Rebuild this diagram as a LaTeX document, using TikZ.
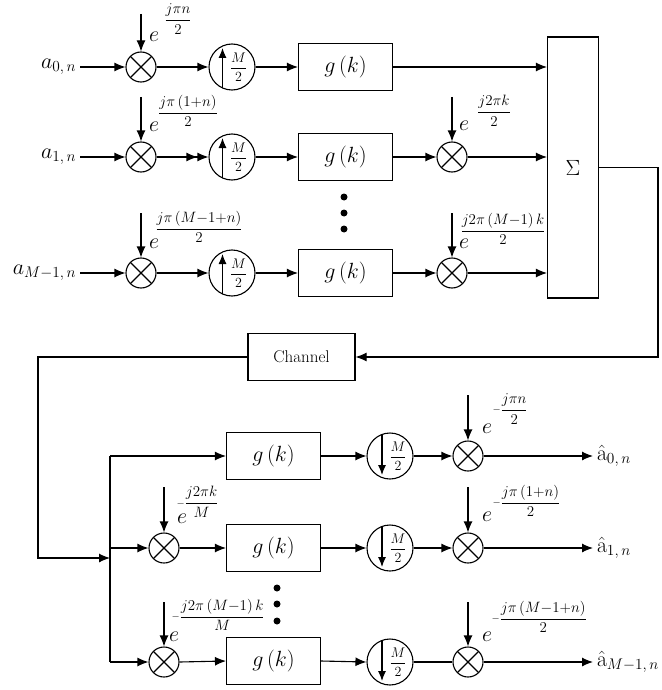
\RequirePackage{fix-cm}
\documentclass[tikz,border=0pt]{standalone}
\usepackage{amsmath}
\usetikzlibrary{arrows.meta,calc}
\begin{document}
\begin{tikzpicture}[x=1pt,y=-1pt,
  line width=1.1pt,
  every node/.style={font=\fontsize{22}{26}\selectfont},
  tip/.style={-{Latex[length=11pt,width=9pt]}},
  dtip/.style={-{Latex[length=11pt,width=9pt]Latex[length=11pt,width=9pt]}},
  mult/.style={circle,draw,minimum size=30pt,inner sep=0pt,path picture={
     \draw ([shift={(45:15pt)}]path picture bounding box.center) -- ([shift={(225:15pt)}]path picture bounding box.center);
     \draw ([shift={(135:15pt)}]path picture bounding box.center) -- ([shift={(-45:15pt)}]path picture bounding box.center);}},
  upsm/.style={circle,draw,minimum size=46pt,inner sep=0pt,font=\fontsize{14}{17}\selectfont,path picture={
     \draw[-{Latex[length=10pt,width=8pt]}] ([shift={(-9.5pt,-23pt)}]path picture bounding box.center) -- ++(0pt,42pt);}},
  downsm/.style={circle,draw,minimum size=46pt,inner sep=0pt,font=\fontsize{14}{17}\selectfont,path picture={
     \draw[-{Latex[length=10pt,width=8pt]}] ([shift={(-8pt,23pt)}]path picture bounding box.center) -- ++(0pt,-42pt);}},
  gbox/.style={draw,minimum width=94pt,minimum height=47pt,inner sep=0pt},
  expf/.style={font=\fontsize{15}{18}\selectfont,inner sep=0pt},
  dotn/.style={circle,fill,inner sep=0pt,minimum size=7pt}
]
\useasboundingbox (0,0) rectangle (661,690);

% ---------- transmitter ----------
\node[anchor=east] (l0) at (80,67) {$a_{0,\,n}$};
\node[anchor=east] (l1) at (80,157) {$a_{1,\,n}$};
\node[anchor=east] (l2) at (80,273) {$a_{M-1,\,n}$};

\node[mult] (m0) at (141,67) {};
\node[mult] (m1) at (141,157) {};
\node[mult] (m2) at (141,273) {};

\node[upsm] (u0) at (232,67) {\hspace{13pt}$\dfrac{M}{2}$};
\node[upsm] (u1) at (232,157) {\hspace{13pt}$\dfrac{M}{2}$};
\node[upsm] (u2) at (232,273) {\hspace{13pt}$\dfrac{M}{2}$};

\node[gbox] (g0) at (345.5,67) {$g\,(k)$};
\node[gbox] (g1) at (345.5,157) {$g\,(k)$};
\node[gbox] (g2) at (345.5,273) {$g\,(k)$};

\node[mult] (r1) at (452,157) {};
\node[mult] (r2) at (452,273) {};

\node[draw,minimum width=51pt,minimum height=261pt] (S) at (573,167.5) {$\Sigma$};

\node[dotn] (d1) at (344,197) {};
\node[dotn] (d2) at (344,213) {};
\node[dotn] (d3) at (344,229) {};

\draw[tip] (l0.east) -- (m0.west);
\draw[tip] (l1.east) -- (m1.west);
\draw[tip] (l2.east) -- (m2.west);
\draw[tip] (m0.east) -- (u0.west);
\draw[dtip] (m1.east) -- (u1.west);
\draw[tip] (m2.east) -- (u2.west);
\draw[tip] (u0.east) -- (g0.west);
\draw[tip] (u1.east) -- (g1.west);
\draw[tip] (u2.east) -- (g2.west);
\draw[tip] (g0.east) -- (g0.east -| S.west);
\draw[tip] (g1.east) -- (r1.west);
\draw[tip] (g2.east) -- (r2.west);
\draw[tip] (r1.east) -- (r1.east -| S.west);
\draw[tip] (r2.east) -- (r2.east -| S.west);

\coordinate (t0) at (141,14);
\coordinate (t1) at (141,97);
\coordinate (t2) at (141,213);
\coordinate (t3) at (452,97);
\coordinate (t4) at (452,213);
\draw[tip] (t0) -- (m0.north);
\draw[tip] (t1) -- (m1.north);
\draw[tip] (t2) -- (m2.north);
\draw[tip] (t3) -- (r1.north);
\draw[tip] (t4) -- (r2.north);

\node (e0) at (154,37) {$e$};
\node[expf] (f0) at (178,19) {$\dfrac{j\pi n}{2}$};
\node (e1) at (154,127) {$e$};
\node[expf] (f1) at (188,111) {$\dfrac{j\pi\,(1{+}n)}{2}$};
\node (e2) at (154,244) {$e$};
\node[expf] (f2) at (199,227) {$\dfrac{j\pi\,(M{-}1{+}n)}{2}$};
\node (e3) at (464,126) {$e$};
\node[expf] (f3) at (494,111) {$\dfrac{j2\pi k}{2}$};
\node (e4) at (464,244) {$e$};
\node[expf] (f4) at (503,229) {$\dfrac{j2\pi\,(M{-}1)\,k}{2}$};

% ---------- channel ----------
\node[draw,minimum width=107pt,minimum height=47pt,font=\fontsize{17}{20}\selectfont] (ch) at (301.5,357) {Channel};
\coordinate (c2) at (658,357);
\coordinate (c3) at (38,357);
\coordinate (jin) at (110,558);
\draw[tip] (S.east) -| (c2) -- (ch.east);
\draw[tip] (ch.west) -- (c3) |- (jin);

% ---------- receiver ----------
\coordinate (j0) at (110,456);
\coordinate (j1) at (110,548);
\coordinate (j2) at (110,662);
\draw (j0) -- (j2);

\node[mult] (p1) at (164,548) {};
\node[mult] (p2) at (164,662) {};

\node[gbox] (h0) at (273.5,456) {$g\,(k)$};
\node[gbox] (h1) at (273.5,548) {$g\,(k)$};
\node[gbox] (h2) at (273.5,661) {$g\,(k)$};

\node[downsm] (v0) at (390,456) {\hspace{16pt}$\dfrac{M}{2}$};
\node[downsm] (v1) at (390,548) {\hspace{16pt}$\dfrac{M}{2}$};
\node[downsm] (v2) at (390,662) {\hspace{16pt}$\dfrac{M}{2}$};

\node[mult] (q0) at (468,456) {};
\node[mult] (q1) at (468,548) {};
\node[mult] (q2) at (468,662) {};

\node[anchor=west] (o0) at (593,456) {$\hat{\mathrm{a}}_{0,\,n}$};
\node[anchor=west] (o1) at (593,548) {$\hat{\mathrm{a}}_{1,\,n}$};
\node[anchor=west] (o2) at (593,662) {$\hat{\mathrm{a}}_{M-1,\,n}$};

\node[dotn] (k1) at (277,588) {};
\node[dotn] (k2) at (277,604) {};
\node[dotn] (k3) at (277,621) {};

\draw[tip] (j0) -- (h0.west);
\draw[tip] (j1) -- (p1.west);
\draw[tip] (j2) -- (p2.west);
\draw[tip] (p1.east) -- (h1.west);
\draw[tip] (p2.east) -- (h2.west);
\draw[tip] (h0.east) -- (v0.west);
\draw[tip] (h1.east) -- (v1.west);
\draw[tip] (h2.east) -- (v2.west);
\draw[tip] (v0.east) -- (q0.west);
\draw[tip] (v1.east) -- (q1.west);
\draw (v2.east) -- (q2.west);
\draw[tip] (q0.east) -- (o0.west);
\draw[tip] (q1.east) -- (o1.west);
\draw[tip] (q2.east) -- (o2.west);

\coordinate (s0) at (468,395);
\coordinate (s1) at (468,487);
\coordinate (s2) at (468,602);
\coordinate (s3) at (164,487);
\coordinate (s4) at (164,602);
\draw[tip] (s0) -- (q0.north);
\draw[tip] (s1) -- (q1.north);
\draw[tip] (s2) -- (q2.north);
\draw[tip] (s3) -- (p1.north);
\draw[tip] (s4) -- (p2.north);

\node (x0) at (487,429) {$e$};
\node[expf,anchor=west] (y0) at (492,409) {$\vcenter{\hbox{$\scriptstyle-$}}\dfrac{j\pi n}{2}$};
\node (x1) at (487,517) {$e$};
\node[expf,anchor=west] (y1) at (492,501) {$\vcenter{\hbox{$\scriptstyle-$}}\dfrac{j\pi\,(1{+}n)}{2}$};
\node (x2) at (487,637) {$e$};
\node[expf,anchor=west] (y2) at (491,617) {$\vcenter{\hbox{$\scriptstyle-$}}\dfrac{j\pi\,(M{-}1{+}n)}{2}$};
\node (x3) at (182,519) {$e$};
\node[expf,anchor=west] (y3) at (176,502) {$\vcenter{\hbox{$\scriptstyle-$}}\dfrac{j2\pi k}{M}$};
\node (x4) at (174,637) {$e$};
\node[expf,anchor=west] (y4) at (171,615) {$\vcenter{\hbox{$\scriptstyle-$}}\dfrac{j2\pi\,(M{-}1)\,k}{M}$};
\end{tikzpicture}
\end{document}
